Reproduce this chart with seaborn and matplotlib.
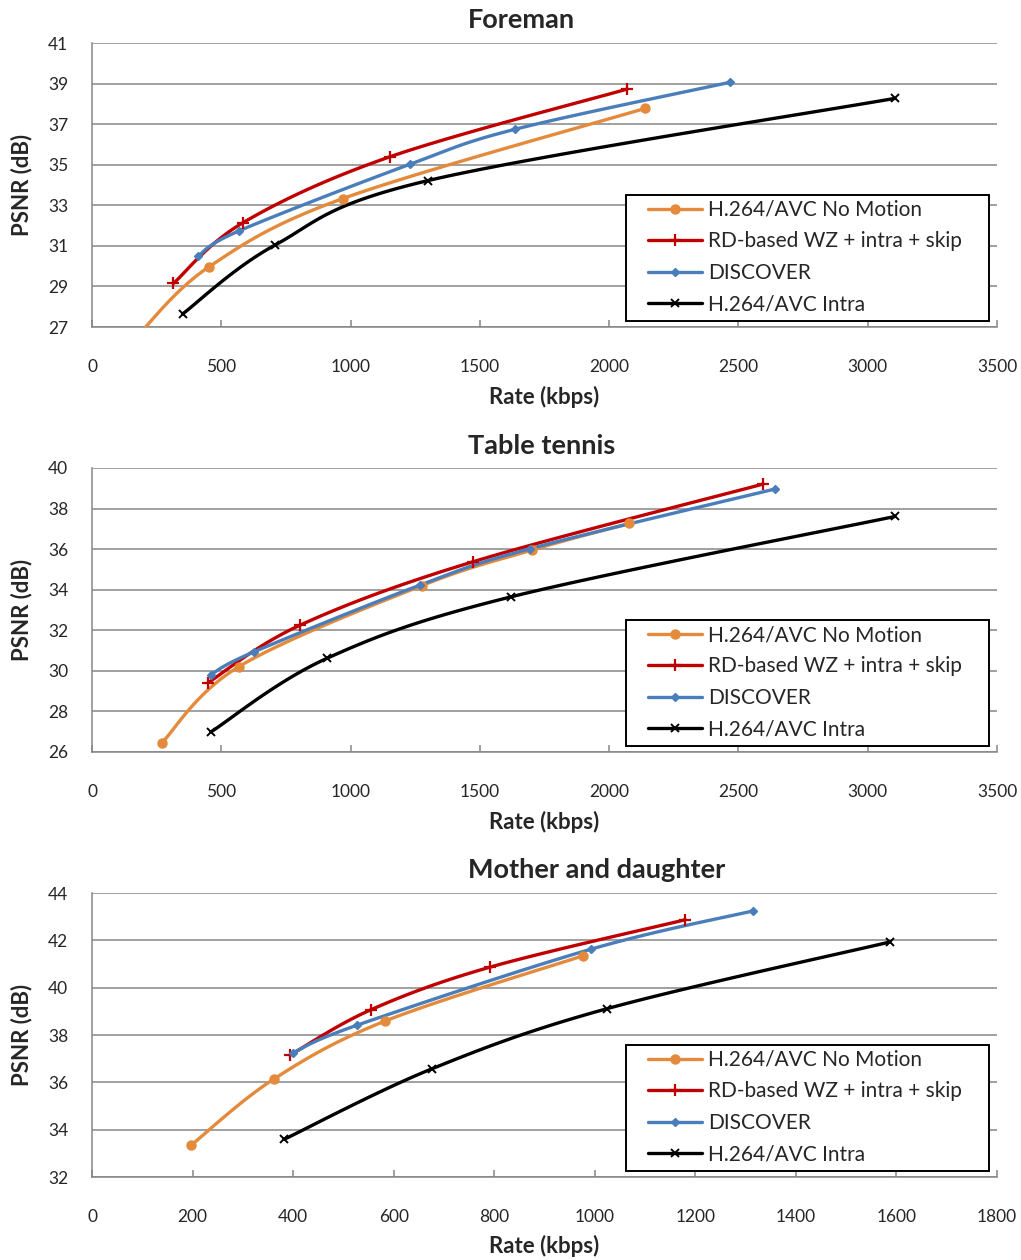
import numpy as np
import matplotlib
matplotlib.use("Agg")
import matplotlib.pyplot as plt
import seaborn as sns
from matplotlib.lines import Line2D
from matplotlib.patches import Rectangle

# ---- data ----
series_names = ["H.264/AVC No Motion", "RD-based WZ + intra + skip", "DISCOVER", "H.264/AVC Intra"]

foreman_rate_nomotion = [185, 453, 970, 2140]
foreman_psnr_nomotion = [26.7, 29.97, 33.33, 37.78]
foreman_rate_wz = [315, 585, 1152, 2070]
foreman_psnr_wz = [29.15, 32.15, 35.39, 38.73]
foreman_rate_discover = [409, 569, 1229, 1637, 2466]
foreman_psnr_discover = [30.49, 31.74, 35.02, 36.75, 39.06]
foreman_rate_intra = [350, 708, 1300, 3105]
foreman_psnr_intra = [27.64, 31.04, 34.22, 38.27]

tennis_rate_nomotion = [270, 567, 1275, 1700, 2078]
tennis_psnr_nomotion = [26.45, 30.2, 34.2, 35.95, 37.27]
tennis_rate_wz = [448, 806, 1474, 2596]
tennis_psnr_wz = [29.41, 32.26, 35.38, 39.21]
tennis_rate_discover = [460, 627, 1269, 1694, 2643]
tennis_psnr_discover = [29.82, 30.94, 34.23, 36.02, 38.97]
tennis_rate_intra = [460, 909, 1621, 3105]
tennis_psnr_intra = [26.99, 30.62, 33.65, 37.61]

mother_rate_nomotion = [197, 361, 583, 977]
mother_psnr_nomotion = [33.34, 36.13, 38.59, 41.35]
mother_rate_wz = [394, 554, 792, 1180]
mother_psnr_wz = [37.15, 39.06, 40.87, 42.87]
mother_rate_discover = [399, 528, 993, 1314]
mother_psnr_discover = [37.24, 38.42, 41.63, 43.24]
mother_rate_intra = [382, 677, 1024, 1587]
mother_psnr_intra = [33.59, 36.58, 39.11, 41.93]

panel_titles = ["Foreman", "Table tennis", "Mother and daughter"]
panel_xticks = [np.arange(0, 3501, 500), np.arange(0, 3501, 500), np.arange(0, 1801, 200)]
panel_yticks = [np.arange(27, 42, 2), np.arange(26, 41, 2), np.arange(32, 45, 2)]

# ---- styles ----
colors = ["#E48A3C", "#C00000", "#4A7EBB", "#000000"]
markers = ["o", "+", "D", "x"]
msizes = [6.5, 9, 4.5, 6]
mews = [1, 1.6, 1, 1.4]
GRID = "#868686"


def smooth(xs, ys, n=30):
    """Excel-like smoothed line (Catmull-Rom / Bezier)"""
    p = np.column_stack([xs, ys]).astype(float)
    pts = np.vstack([p[0], p, p[-1]])
    out = []
    t = np.linspace(0, 1, n)[:, None]
    for i in range(1, len(pts) - 2):
        p0, p1, p2, p3 = pts[i - 1], pts[i], pts[i + 1], pts[i + 2]
        c1 = p1 + (p2 - p0) / 6
        c2 = p2 - (p3 - p1) / 6
        seg = ((1 - t) ** 3) * p1 + 3 * ((1 - t) ** 2) * t * c1 + 3 * (1 - t) * t ** 2 * c2 + t ** 3 * p2
        out.append(seg)
    out = np.vstack(out)
    return out[:, 0], out[:, 1]


sns.set_style("white")
plt.rcParams['font.family'] = ['Lato', 'DejaVu Sans']

fig = plt.figure(figsize=(10.21, 12.6), dpi=100)

panels = [
    [(foreman_rate_nomotion, foreman_psnr_nomotion), (foreman_rate_wz, foreman_psnr_wz),
     (foreman_rate_discover, foreman_psnr_discover), (foreman_rate_intra, foreman_psnr_intra)],
    [(tennis_rate_nomotion, tennis_psnr_nomotion), (tennis_rate_wz, tennis_psnr_wz),
     (tennis_rate_discover, tennis_psnr_discover), (tennis_rate_intra, tennis_psnr_intra)],
    [(mother_rate_nomotion, mother_psnr_nomotion), (mother_rate_wz, mother_psnr_wz),
     (mother_rate_discover, mother_psnr_discover), (mother_rate_intra, mother_psnr_intra)],
]

W, H = 1021, 1260
ax_tops = [43, 468, 893]
ax_h = 284
left, right = 92, 997
ax_w = right - left
title_y = [20, 446, 870]
xlabel_y = [397, 822, 1246]

for k, data in enumerate(panels):
    ax = fig.add_axes([left / W, 1 - (ax_tops[k] + ax_h) / H, ax_w / W, ax_h / H])

    for i, (xs, ys) in enumerate(data):
        sx, sy = smooth(xs, ys)
        sns.lineplot(x=sx, y=sy, ax=ax, color=colors[i], linewidth=2.4, sort=False,
                     estimator=None, zorder=3 + i * 0.1)
        ax.plot(xs, ys, linestyle="none", marker=markers[i], color=colors[i],
                markersize=msizes[i], markeredgewidth=mews[i], zorder=4 + i * 0.1)

    ax.set_xlim(panel_xticks[k][0], panel_xticks[k][-1])
    ax.set_ylim(panel_yticks[k][0], panel_yticks[k][-1])
    ax.set_xticks(panel_xticks[k])
    ax.set_yticks(panel_yticks[k])
    ax.tick_params(axis="x", direction="in", length=5, width=1.1, color=GRID,
                   labelsize=12.5, pad=23, bottom=True)
    ax.tick_params(axis="y", length=0, labelsize=12.5, pad=17)
    ax.grid(axis="y", color=GRID, linewidth=1.1)
    ax.grid(axis="x", visible=False)
    ax.set_axisbelow(True)
    for s in ["top", "right"]:
        ax.spines[s].set_visible(False)
    for s in ["left", "bottom"]:
        ax.spines[s].set_color(GRID)
        ax.spines[s].set_linewidth(1.1)
    ax.set_xlabel("")
    ax.set_ylabel("")

    # legend box (drawn separately to get Excel-like padding)
    bx0, bx1 = (626 - left) / ax_w, (989 - left) / ax_w
    by0 = 1 - (321 - 43) / ax_h
    by1 = 1 - (195 - 43) / ax_h
    ax.add_patch(Rectangle((bx0, by0), bx1 - bx0, by1 - by0, transform=ax.transAxes,
                           facecolor="white", edgecolor="black", linewidth=1.4,
                           zorder=10, clip_on=False))

    handles = [Line2D([0], [0], color=colors[i], linewidth=2.4, marker=markers[i],
                      markersize=msizes[i], markeredgewidth=mews[i]) for i in range(4)]
    leg = ax.legend(handles, series_names, loc="upper left",
                    bbox_to_anchor=((648 - left) / ax_w, 1 - (200 - 43) / ax_h),
                    fontsize=15, frameon=False, handlelength=2.6, handletextpad=0.3,
                    labelspacing=0.55, borderpad=0, borderaxespad=0)
    leg.set_zorder(11)

    fig.text(468 / W, 1 - title_y[k] / H, panel_titles[k], fontsize=19.5, fontweight="bold",
             ha="left", va="center")
    fig.text((left + right) / 2 / W, 1 - xlabel_y[k] / H, "Rate (kbps)", fontsize=16,
             fontweight="bold", ha="center", va="center")
    fig.text(22 / W, 1 - (ax_tops[k] + ax_h / 2) / H, "PSNR (dB)", fontsize=16,
             fontweight="bold", ha="center", va="center", rotation=90)

fig.savefig("out.png", dpi=100)
